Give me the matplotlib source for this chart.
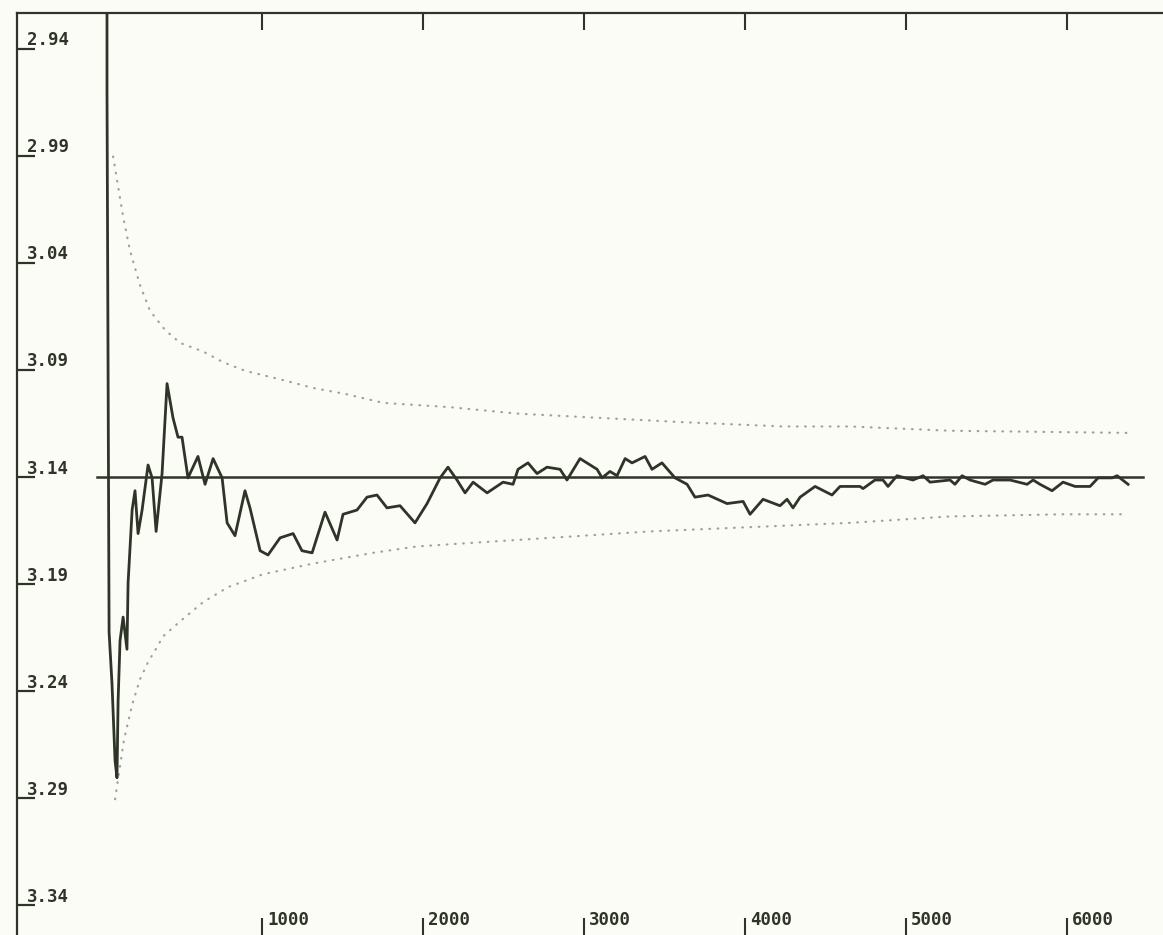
import numpy as np
import matplotlib
matplotlib.use("Agg")
import matplotlib.pyplot as plt

# running estimate (throws, estimate)
n_est = [37, 37, 50, 68, 87, 99, 106, 118, 137, 161, 168, 193, 211, 230, 255,
         292, 317, 342, 379, 410, 447, 478, 503, 540, 602, 646, 696, 752, 783,
         832, 894, 925, 988, 1037, 1112, 1193, 1248, 1311, 1391, 1466, 1503,
         1590, 1652, 1714, 1776, 1857, 1950, 2025, 2106, 2155, 2211, 2261,
         2311, 2398, 2497, 2559, 2590, 2652, 2708, 2770, 2851, 2894, 2975,
         3081, 3112, 3161, 3205, 3255, 3298, 3379, 3422, 3484, 3565, 3640,
         3689, 3770, 3888, 3988, 4031, 4112, 4217, 4261, 4298, 4342, 4435,
         4540, 4590, 4714, 4733, 4807, 4857, 4888, 4944, 5043, 5106, 5149,
         5273, 5304, 5348, 5398, 5491, 5540, 5646, 5752, 5789, 5832, 5907,
         5975, 6050, 6099, 6143, 6193, 6280, 6311, 6379]
v_est = [2.900, 2.961, 3.214, 3.238, 3.274, 3.282, 3.246, 3.218, 3.207, 3.222,
         3.191, 3.157, 3.148, 3.168, 3.157, 3.136, 3.142, 3.167, 3.140, 3.098,
         3.114, 3.123, 3.123, 3.142, 3.132, 3.145, 3.133, 3.142, 3.163, 3.169,
         3.148, 3.156, 3.176, 3.178, 3.170, 3.168, 3.176, 3.177, 3.158, 3.171,
         3.159, 3.157, 3.151, 3.150, 3.156, 3.155, 3.163, 3.154, 3.142, 3.137,
         3.143, 3.149, 3.144, 3.149, 3.144, 3.145, 3.138, 3.135, 3.140, 3.137,
         3.138, 3.143, 3.133, 3.138, 3.142, 3.139, 3.141, 3.133, 3.135, 3.132,
         3.138, 3.135, 3.142, 3.145, 3.151, 3.150, 3.154, 3.153, 3.159, 3.152,
         3.155, 3.152, 3.156, 3.151, 3.146, 3.150, 3.146, 3.146, 3.147, 3.143,
         3.143, 3.146, 3.141, 3.143, 3.141, 3.144, 3.143, 3.145, 3.141, 3.143,
         3.145, 3.143, 3.143, 3.145, 3.143, 3.145, 3.148, 3.144, 3.146, 3.146,
         3.146, 3.142, 3.142, 3.141, 3.145]

# dotted bounds
n_up = [75, 137, 180, 242, 304, 398, 491, 634, 758, 894, 1112, 1317, 1528,
        1752, 2168, 2584, 3099, 3615, 4236, 4652, 5273, 6373]
v_up = [2.992, 3.020, 3.036, 3.052, 3.064, 3.073, 3.079, 3.083, 3.088, 3.092,
        3.096, 3.100, 3.103, 3.107, 3.109, 3.112, 3.114, 3.116, 3.118, 3.118,
        3.120, 3.121]
n_lo = [87, 143, 193, 242, 292, 348, 385, 491, 634, 789, 1006, 1317, 1689,
        1963, 2373, 2789, 3410, 4031, 4652, 5273, 5975, 6379]
v_lo = [3.292, 3.264, 3.248, 3.236, 3.228, 3.221, 3.216, 3.209, 3.200, 3.193,
        3.187, 3.182, 3.177, 3.174, 3.172, 3.170, 3.167, 3.165, 3.163, 3.160,
        3.159, 3.159]

true_pi = np.pi
pi_span = [-25, 6470]
x_ticks = [1000, 2000, 3000, 4000, 5000, 6000]
y_ticks = [true_pi + 0.05 * k for k in range(-4, 5)]
y_labels = ["%.2f" % (int(t * 100) / 100) for t in y_ticks]

ink = "#2f3429"
paper = "#fcfcf6"
fig = plt.figure(figsize=(11.63, 9.35), dpi=100, facecolor=paper)
ax = fig.add_axes([17 / 1163, 0, 1 - 17 / 1163, 1 - 13 / 935])
ax.set_facecolor(paper)

dots = dict(color="#a0a0a0", lw=1.6, linestyle=(0, (0.3, 3.4)),
            dash_capstyle="round")
ax.plot(n_up, v_up, **dots)
ax.plot(n_lo, v_lo, **dots)
ax.plot(pi_span, [true_pi, true_pi], color=ink, lw=1.8)
ax.plot(n_est, v_est, color=ink, lw=2.0, solid_joinstyle="round")

ax.set_xlim(-522, 6596)
ax.set_ylim(true_pi + 0.2138, true_pi - 0.2166)

for s in ["right", "bottom"]:
    ax.spines[s].set_visible(False)
for s in ["left", "top"]:
    ax.spines[s].set_color(ink)
    ax.spines[s].set_linewidth(1.6)

ax.set_xticks(x_ticks)
ax.set_yticks(y_ticks)
ax.tick_params(axis="x", direction="in", top=True, bottom=True, length=12,
               width=1.5, color=ink, labelbottom=False, labeltop=False)
ax.tick_params(axis="y", direction="in", left=True, length=13, width=1.6,
               color=ink, labelleft=False)

font = dict(family="DejaVu Sans Mono", weight="bold", size=12.5, color=ink)
for t, lab in zip(y_ticks, y_labels):
    ax.annotate(lab, xy=(0, t), xycoords=("axes fraction", "data"),
                xytext=(7, 2.5), textcoords="offset points",
                ha="left", va="baseline", **font)
for t in x_ticks:
    ax.annotate(str(t), xy=(t, 0), xycoords=("data", "axes fraction"),
                xytext=(3.5, 7.5), textcoords="offset points",
                ha="left", va="baseline", **font)

fig.savefig("out.png", dpi=100, facecolor=fig.get_facecolor())
